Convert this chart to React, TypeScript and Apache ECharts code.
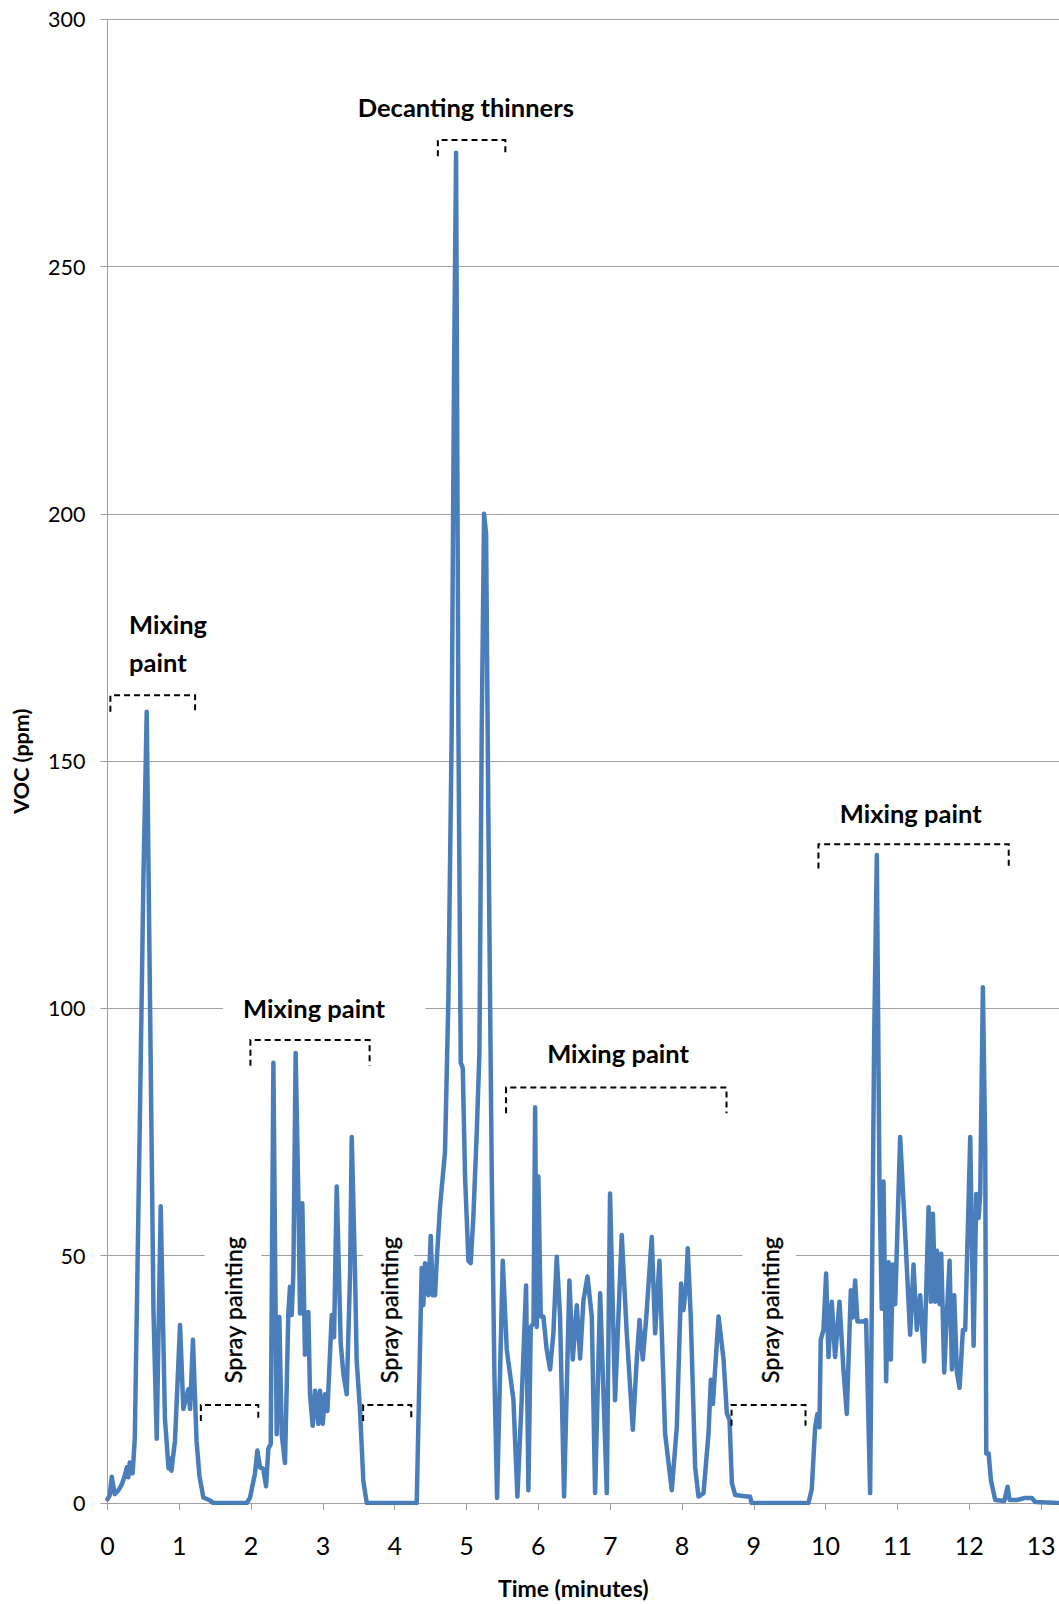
import React, { useEffect, useRef } from "react";
import * as echarts from "echarts";

// Time (minutes) and VOC (ppm)
const times = [
  0, 0.03, 0.06, 0.1, 0.15, 0.2, 0.24, 0.27, 0.29, 0.31, 0.35, 0.38, 0.45, 0.5, 0.546, 0.59, 0.64, 0.685, 0.741, 0.8, 0.85, 0.87, 0.89, 0.91, 0.94, 1.01, 1.056, 1.09, 1.126, 1.15, 1.19, 1.24, 1.28, 1.335, 1.43, 1.47,
  1.94, 1.985, 2.054, 2.087, 2.124, 2.17, 2.208, 2.24, 2.273, 2.31, 2.356, 2.393, 2.426, 2.472, 2.518, 2.541, 2.565, 2.588, 2.62, 2.658, 2.681, 2.713, 2.75, 2.797, 2.82, 2.857, 2.89, 2.936, 2.959, 2.997, 3.03, 3.062, 3.123, 3.155, 3.192, 3.248, 3.285, 3.331, 3.378, 3.401, 3.447, 3.47, 3.517, 3.563, 3.61,
  4.306, 4.375, 4.398, 4.422, 4.455, 4.468, 4.501, 4.529, 4.561, 4.585, 4.631, 4.7, 4.747, 4.793, 4.826, 4.854, 4.887, 4.919, 4.947, 4.979, 5.026, 5.058, 5.095, 5.142, 5.179, 5.211, 5.244, 5.272, 5.304, 5.351, 5.388, 5.425,
  5.504, 5.56, 5.652, 5.708, 5.768, 5.829, 5.861, 5.894, 5.932, 5.955, 5.977, 6.0, 6.033, 6.07, 6.116, 6.163, 6.209, 6.256, 6.302, 6.358, 6.432, 6.479, 6.535, 6.581, 6.628, 6.684, 6.744, 6.79, 6.86, 6.953, 6.998, 7.068, 7.161, 7.231, 7.315, 7.37, 7.408, 7.454, 7.5, 7.579, 7.626, 7.686, 7.765, 7.858, 7.928, 7.988, 8.02, 8.057, 8.08, 8.122, 8.183, 8.229, 8.3, 8.369, 8.402, 8.43, 8.509, 8.579, 8.625, 8.662, 8.695, 8.741, 8.902, 8.948, 8.97,
  9.761, 9.807, 9.854, 9.886, 9.914, 9.932, 9.97, 10.007, 10.04, 10.086, 10.132, 10.193, 10.248, 10.295, 10.351, 10.378, 10.411, 10.443, 10.527, 10.564, 10.62, 10.676, 10.713, 10.75, 10.782, 10.806, 10.843, 10.876, 10.908, 10.936, 10.969, 11.038, 11.108, 11.177, 11.224, 11.27, 11.317, 11.373, 11.434, 11.466, 11.494, 11.526, 11.55, 11.587, 11.61, 11.652, 11.689, 11.726, 11.759, 11.791, 11.828, 11.865, 11.912, 11.944, 12.014, 12.061, 12.098, 12.13, 12.153, 12.19, 12.223, 12.237, 12.27, 12.302, 12.362, 12.488, 12.534, 12.562, 12.664, 12.766, 12.873, 12.92, 13.25,
];
const voc = [
  0.8, 1.5, 5.3, 1.8, 2.5, 3.8, 5.5, 7.2, 5.2, 8.2, 6, 13, 77, 126, 160, 104, 39, 13, 60, 17, 7, 9, 6.5, 9, 12.6, 36, 19, 21, 23, 19, 33, 12.6, 5.5, 1.1, 0.5, 0,
  0, 1.1, 6, 10.6, 7.2, 6.9, 3.4, 11, 11.9, 89, 13.9, 37.6, 13.9, 8.1, 38.3, 43.7, 38, 46.4, 91, 61.3, 38.3, 60.6, 30, 38.6, 22, 15.6, 22.7, 16, 22.7, 16, 22, 18.6, 38, 33.5, 64, 32.2, 26, 22, 46.4, 74, 46.4, 28.8, 18.6, 4.4, 0,
  0, 47.5, 40, 48.5, 47.5, 42, 54, 42, 42, 49, 60, 71, 102, 156, 229, 273, 156, 89, 88, 66, 49, 48.5, 58, 75, 91, 156, 200, 196, 138, 66, 26, 1,
  49, 31, 21, 1.3, 21, 44, 2.6, 35.6, 36.3, 80, 35.6, 66, 37.7, 37.7, 31, 27, 34.3, 49.8, 37.7, 1.3, 45, 29, 40, 29.2, 41, 45.8, 37.7, 2, 42.4, 2, 62.6, 20.8, 54.2, 34.3, 14.8, 29, 37, 29, 37, 53.8, 34.3, 49, 14, 2.6, 15.4, 44.4, 39, 43.7, 51.5, 37.7, 7.3, 1.3, 2, 14, 24.9, 20, 37.7, 29, 18.1, 16.8, 4, 1.6, 1.3, 1.3, 0,
  0, 2.8, 15.3, 18, 15.3, 33, 35, 46.4, 29.5, 40.7, 29.5, 40.7, 27, 18, 43, 37.5, 45, 36.7, 36.7, 37, 2, 93.6, 131, 64.2, 39.3, 65, 24.6, 48.7, 29, 48.2, 40.2, 74, 54.4, 34, 48.2, 35, 42, 28.6, 59.8, 40.7, 58.5, 40.7, 51, 40.2, 50.4, 26.4, 38.4, 49, 27, 42, 26.4, 23.3, 35, 35, 74, 31.8, 62.5, 57.6, 62.5, 104.3, 71.4, 10, 10, 4.6, 0.6, 0.4, 3.3, 0.6, 0.6, 1, 1, 0.2, 0,
];

const xTickValues = [0, 1, 2, 3, 4, 5, 6, 7, 8, 9, 10, 11, 12, 13];

// Annotation brackets (data units)
const bracketStart = [0.04, 4.6, 1.99, 5.55, 9.9, 1.3, 3.56, 8.69];
const bracketEnd = [1.22, 5.54, 3.65, 8.62, 12.55, 2.1, 4.23, 9.72];
const bracketTop = [163.3, 275.6, 93.6, 84.0, 133.2, 19.8, 19.8, 19.8];
const bracketBottom = [160.0, 272.3, 88.4, 78.8, 128.3, 16.6, 16.6, 15.6];

// Horizontal labels
const labelText = ["Mixing", "paint", "Decanting thinners", "Mixing paint", "Mixing paint", "Mixing paint"];
const labelX = [0.3, 0.3, 4.99, 2.876, 7.11, 11.185];
const labelY = [177.7, 170.0, 282.3, 100, 91, 139.6];
const labelAlign = ["left", "left", "center", "center", "center", "center"];

// Vertical labels
const sprayText = ["Spray painting", "Spray painting", "Spray painting"];
const sprayX = [1.752, 3.918, 9.22];
const sprayY = [39, 39, 39];

// White boxes behind labels (hide gridlines)
const boxX0 = [1.609, 1.352, 3.56, 8.84];
const boxX1 = [4.43, 2.138, 4.27, 9.589];
const boxY0 = [97.5, 47.5, 47.5, 47.5];
const boxY1 = [102.5, 52.5, 52.5, 52.5];

const FONT = "Lato, 'Open Sans', sans-serif";
const GRID_COLOR = "#a0a0a0";

export default function App() {
  const ref = useRef<HTMLDivElement>(null);

  useEffect(() => {
    const chart = echarts.init(ref.current as HTMLDivElement, null, { renderer: "svg" });
    const seriesData = times.map((t, i) => [t, voc[i]]);

    chart.setOption({
      animation: false,
      backgroundColor: "#ffffff",
      grid: { left: 107.5, right: 0, top: 19.3, bottom: 101, containLabel: false },
      xAxis: {
        type: "value",
        min: 0,
        max: 13.25,
        interval: 1,
        name: "Time (minutes)",
        nameLocation: "middle",
        nameGap: 73,
        nameTextStyle: { fontFamily: FONT, fontWeight: "bold", fontSize: 23, color: "#000", padding: [0, 20, 0, 0] },
        axisLine: { show: true, lineStyle: { color: GRID_COLOR, width: 1 } },
        axisTick: { show: true, length: 7, inside: false, customValues: xTickValues, lineStyle: { color: GRID_COLOR } },
        axisLabel: { customValues: xTickValues, fontFamily: FONT, fontSize: 25, color: "#000", margin: 29 },
        splitLine: { show: false },
      },
      yAxis: {
        type: "value",
        min: 0,
        max: 300,
        interval: 50,
        name: "VOC (ppm)",
        nameLocation: "middle",
        nameGap: 76,
        nameTextStyle: { fontFamily: FONT, fontWeight: "bold", fontSize: 21.5, color: "#000" },
        axisLine: { show: true, lineStyle: { color: GRID_COLOR, width: 1 } },
        axisTick: { show: true, length: 7, inside: false, lineStyle: { color: GRID_COLOR } },
        axisLabel: { fontFamily: FONT, fontSize: 21.5, color: "#000", margin: 22 },
        splitLine: { show: true, lineStyle: { color: GRID_COLOR, width: 1 } },
      },
      series: [
        {
          type: "line",
          data: seriesData,
          showSymbol: false,
          symbol: "none",
          lineStyle: { color: "#4a7ebb", width: 4.5, join: "round", cap: "round" },
          z: 3,
        },
      ],
    });

    const px = (t: number, v: number) => chart.convertToPixel({ gridIndex: 0 }, [t, v]) as number[];
    const elements: any[] = [];

    boxX0.forEach((_, i) => {
      const a = px(boxX0[i], boxY1[i]);
      const b = px(boxX1[i], boxY0[i]);
      elements.push({
        type: "rect",
        z: 1,
        shape: { x: a[0], y: a[1], width: b[0] - a[0], height: b[1] - a[1] },
        style: { fill: "#ffffff" },
        silent: true,
      });
    });

    bracketStart.forEach((_, i) => {
      const p0 = px(bracketStart[i], bracketBottom[i]);
      const p1 = px(bracketStart[i], bracketTop[i]);
      const p2 = px(bracketEnd[i], bracketTop[i]);
      const p3 = px(bracketEnd[i], bracketBottom[i]);
      elements.push({
        type: "polyline",
        z: 10,
        shape: { points: [p0, p1, p2, p3] },
        style: { stroke: "#000", lineWidth: 2, lineDash: [6, 4], fill: null },
        silent: true,
      });
    });

    labelText.forEach((txt, i) => {
      const p = px(labelX[i], labelY[i]);
      elements.push({
        type: "text",
        z: 10,
        x: p[0],
        y: p[1],
        style: {
          text: txt,
          fill: "#000",
          fontFamily: FONT,
          fontWeight: "bold",
          fontSize: 25.5,
          align: labelAlign[i],
          textAlign: labelAlign[i],
          verticalAlign: "middle",
          textVerticalAlign: "middle",
        },
        silent: true,
      });
    });

    sprayText.forEach((txt, i) => {
      const p = px(sprayX[i], sprayY[i]);
      elements.push({
        type: "text",
        z: 10,
        x: p[0],
        y: p[1],
        rotation: Math.PI / 2,
        style: {
          text: txt,
          fill: "#000",
          fontFamily: FONT,
          fontWeight: "normal",
          fontSize: 23.5,
          stroke: "#000",
          lineWidth: 0.4,
          align: "center",
          textAlign: "center",
          verticalAlign: "middle",
          textVerticalAlign: "middle",
        },
        silent: true,
      });
    });

    chart.setOption({ graphic: { elements } });

    return () => {
      chart.dispose();
    };
  }, []);

  return (
    <div
      ref={ref}
      style={{ position: "absolute", left: 0, top: 0, width: 1059, height: 1604, background: "#ffffff" }}
    />
  );
}
